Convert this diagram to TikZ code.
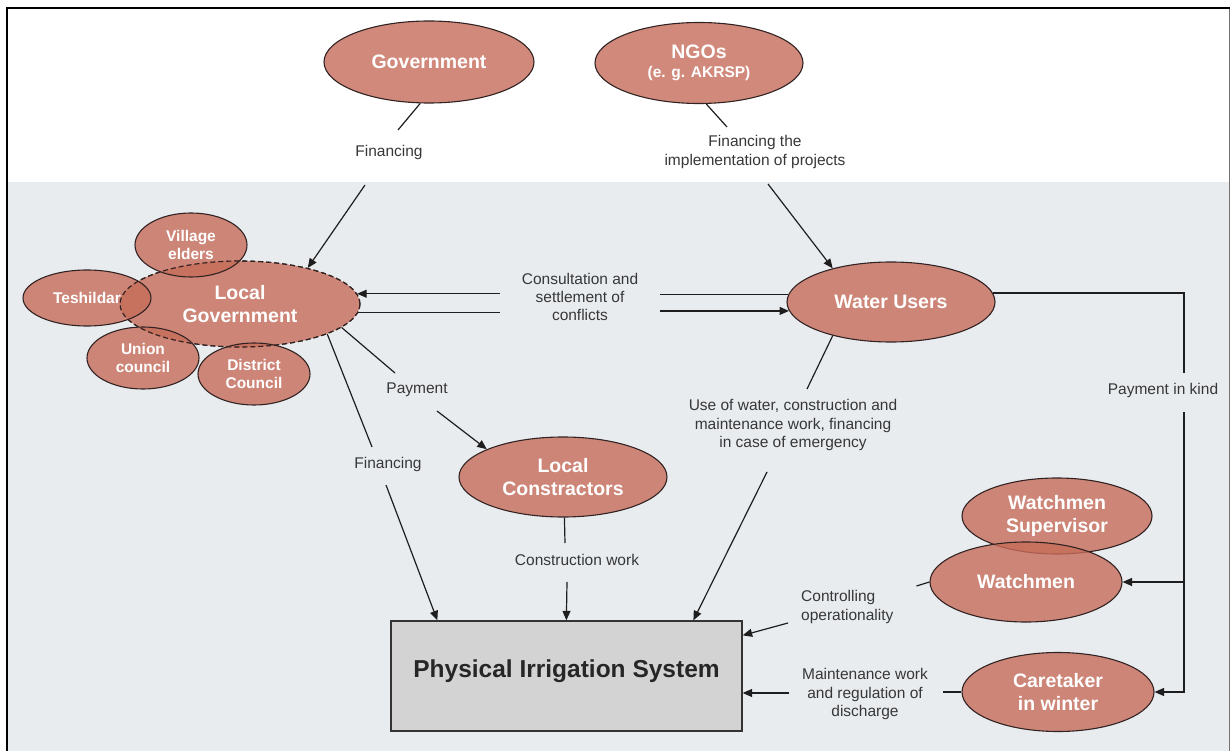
\documentclass[tikz,border=0pt]{standalone}
\usepackage{fontspec}
\setmainfont{Liberation Sans}
\usetikzlibrary{shapes.geometric,arrows.meta,calc}
\definecolor{bggray}{RGB}{233,236,239}
\definecolor{ellfill}{RGB}{198,108,90}
\definecolor{ellline}{RGB}{50,35,35}
\definecolor{lblcol}{RGB}{55,55,55}
\definecolor{piscol}{RGB}{211,211,211}
\definecolor{lncol}{RGB}{30,30,30}
\begin{document}
\begin{tikzpicture}[x=1pt,y=-1pt,
  ell/.style={ellipse, draw=ellline, line width=1.1pt, fill=ellfill, fill opacity=0.8, text opacity=1, text=white, inner sep=0pt, align=center, font=\bfseries\fontsize{19.5}{22.5}\selectfont},
  sell/.style={ell, font=\bfseries\fontsize{15.5}{18.5}\selectfont},
  lbl/.style={text=lblcol, align=center, inner sep=2pt, font=\fontsize{15.5}{18.3}\selectfont},
  ln/.style={draw=lncol, line width=1.2pt},
  arr/.style={ln, -{Triangle[length=9.5pt,width=8pt]}},
]
\useasboundingbox (0,0) rectangle (1231,751);
\fill[white] (0,0) rectangle (1231,751);
\fill[bggray] (7,182) rectangle (1229,751);

% top ellipses
\node[ell, minimum width=210pt, minimum height=82pt] (gov) at (429,62) {Government};
\node[ell, minimum width=208pt, minimum height=81pt, font=\bfseries\fontsize{19.5}{19}\selectfont] (ngo) at (699,63) {NGOs\\{\fontsize{15.5}{18}\selectfont (e. g. AKRSP)}};

% local government cluster
\node[ell, dashed, dash pattern=on 5pt off 3pt, minimum width=240pt, minimum height=86pt] (lgov) at (240,304) {Local\\Government};
\node[sell, minimum width=112pt, minimum height=64pt] (ve) at (191,245) {Village\\elders};
\node[sell, minimum width=128pt, minimum height=56pt] (tes) at (87,298) {Teshildar};
\node[sell, minimum width=112pt, minimum height=62pt] (uc) at (143,358) {Union\\council};
\node[sell, minimum width=112pt, minimum height=62pt] (dc) at (254,374) {District\\Council};
\draw[ellline, line width=1.1pt, dash pattern=on 5pt off 3pt] (lgov.center) ellipse [x radius=120pt, y radius=43pt];

% other ellipses
\node[ell, minimum width=208pt, minimum height=80pt] (wu) at (891,302) {Water Users};
\node[ell, minimum width=208pt, minimum height=80pt] (lc) at (563,477) {Local\\Constractors};
\node[ell, minimum width=190pt, minimum height=76pt] (wms) at (1057,516) {Watchmen\\Supervisor};
\node[ell, minimum width=192pt, minimum height=80pt] (wm) at (1026,582) {Watchmen};
\node[ell, minimum width=192pt, minimum height=79pt] (care) at (1058,692) {Caretaker\\in winter};

% physical irrigation system
\node[draw=black!80, line width=1.3pt, fill=piscol, minimum width=351pt, minimum height=110pt,
  font=\bfseries\fontsize{24.5}{28}\selectfont, text=black!85, text height=18pt, text depth=16pt] (pis) at (566.5,676) {Physical Irrigation System};

% labels
\node[lbl] (lgf) at (389,152) {Financing};
\node[lbl] (nlbl) at (755,152) {Financing the\\implementation of projects};
\node[lbl] (clbl) at (580,297) {Consultation and\\settlement of\\conflicts};
\node[lbl] (plbl) at (417,390) {Payment};
\node[lbl] (flbl) at (388,464) {Financing};
\node[lbl] (ctl) at (577,560) {Construction work};
\node[lbl] (ulbl) at (793,425) {Use of water, construction and\\maintenance work, financing\\in case of emergency};
\node[lbl] (pik) at (1163,390) {Payment in kind};
\node[lbl, align=left, anchor=west] (ctrl) at (799,607) {Controlling\\operationality};
\node[lbl] (mlbl) at (865,694) {Maintenance work\\and regulation of\\discharge};

% connectors
\draw[ln] (gov.258) -- ($(lgf.center)+(9,-22)$);
\draw[arr] ($(lgf.center)+(-24,33)$) -- (lgov.28);

\draw[ln] (ngo.280) -- ($(nlbl.center)+(-28,-25)$);
\draw[arr] ($(nlbl.center)+(13,32)$) -- (wu.150);

\coordinate (cl) at ($(clbl.center)+(-80,0)$);
\coordinate (cr) at ($(clbl.center)+(80,0)$);
\draw[arr] (cl |- lgov.5) -- (lgov.5);
\draw[ln] (lgov.-4) -- (cl |- lgov.-4);
\draw[ln] (cr |- wu.176) -- (wu.176);
\draw[arr] (cr |- wu.185) -- (wu.185);

\draw[ln] (lgov.-13) -- ($(plbl.center)+(-22,-17)$);
\draw[arr] ($(plbl.center)+(20,21)$) -- (lc.160);

\draw[ln] (lgov.-19) -- ($(flbl.center)+(-16,-17)$);
\draw[arr] ($(flbl.center)+(-2,21)$) -- ($(pis.north west)+(47,0)$);

\draw[ln] (lc.272) -- ($(ctl.center)+(-12,-17)$);
\draw[arr] ($(ctl.center)+(-10,22)$) -- ($(pis.north west)+(176,0)$);

\draw[ln] (wu.210) -- ($(ulbl.center)+(14,-36)$);
\draw[arr] ($(ulbl.center)+(-26,47)$) -- ($(pis.north west)+(303,0)$);

\draw[ln] (wu.5) -| ($(pik.center)+(21,-17)$);
\coordinate (vb) at ($(pik.center)+(21,22)$);
\draw[arr] (vb) |- (care.east);
\draw[arr] (vb |- wm.east) -- (wm.east);

\draw[ln] (wm.west) -- ($(wm.west)+(-13,4)$);
\draw[arr] ($(ctrl.west)+(-11,16)$) -- ($(pis.north east)+(0,15)$);

\draw[ln] (care.west) -- ($(care.west)+(-18,0)$);
\draw[arr] ($(mlbl.west)+(-11,-1)$) -- ($(pis.east)+(0,17)$);

% frame
\draw[black!55, line width=1pt] (1229,8) -- (1229,751);
\draw[black, line width=2.5pt] (7,751) -- (7,8) -- (1230,8);
\end{tikzpicture}
\end{document}
